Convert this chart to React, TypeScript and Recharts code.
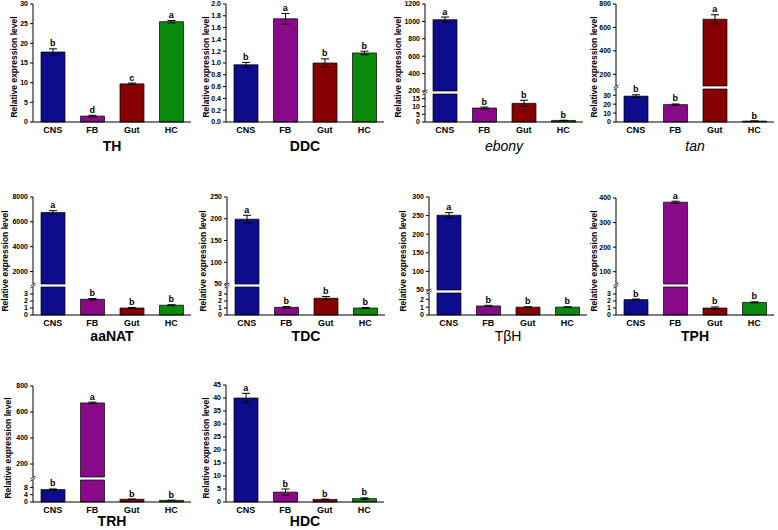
import React from "react";
import { ComposedChart, Bar, XAxis, YAxis, ErrorBar, Cell, Scatter } from "recharts";

const categories = ["CNS", "FB", "Gut", "HC"];
const barColors = ["#0c0c8c", "#880a88", "#860000", "#0a8a0a"];

const thValues = [17.8, 1.5, 9.7, 25.5];
const thErrors = [0.8, 0.2, 0.2, 0.3];
const thLetters = ["b", "d", "c", "a"];

const ddcValues = [0.97, 1.75, 1.0, 1.17];
const ddcErrors = [0.04, 0.09, 0.07, 0.03];
const ddcLetters = ["b", "a", "b", "b"];

const ebonyValues = [1020, 9, 12, 1.0];
const ebonyErrors = [30, 0.6, 2, 0.1];
const ebonyLetters = ["a", "b", "b", "b"];

const tanValues = [29, 19.5, 670, 1.0];
const tanErrors = [1.5, 0.7, 38, 0.1];
const tanLetters = ["b", "b", "a", "b"];

const aanatValues = [6750, 2.25, 1.0, 1.4];
const aanatErrors = [150, 0.1, 0.05, 0.07];
const aanatLetters = ["a", "b", "b", "b"];

const tdcValues = [199, 1.1, 2.4, 1.0];
const tdcErrors = [9, 0.1, 0.25, 0.07];
const tdcLetters = ["a", "b", "b", "b"];

const tbhValues = [251, 1.15, 1.0, 1.0];
const tbhErrors = [7, 0.08, 0.05, 0.05];
const tbhLetters = ["a", "b", "b", "b"];

const tphValues = [2.2, 383, 1.0, 1.8];
const tphErrors = [0.08, 4, 0.15, 0.07];
const tphLetters = ["b", "a", "b", "b"];

const trhValues = [6.8, 670, 1.5, 0.9];
const trhErrors = [0.3, 6, 0.1, 0.1];
const trhLetters = ["b", "a", "b", "b"];

const hdcValues = [40, 3.8, 1.0, 1.3];
const hdcErrors = [1.8, 1.2, 0.1, 0.3];
const hdcLetters = ["a", "b", "b", "b"];

const thTicks = [0, 5, 10, 15, 20, 25, 30];
const ddcTicks = [0, 0.2, 0.4, 0.6, 0.8, 1.0, 1.2, 1.4, 1.6, 1.8, 2.0];
const ebonyUpperTicks = [200, 400, 600, 800, 1000, 1200];
const ebonyLowerTicks = [0, 5, 10, 15];
const tanUpperTicks = [200, 400, 600, 800];
const tanLowerTicks = [0, 10, 20, 30];
const aanatUpperTicks = [2000, 4000, 6000, 8000];
const smallLowerTicks = [0, 1, 2, 3];
const tdcUpperTicks = [50, 100, 150, 200, 250];
const tbhUpperTicks = [50, 100, 150, 200, 250, 300];
const tbhLowerTicks = [0, 1, 2];
const tphUpperTicks = [100, 200, 300, 400];
const trhUpperTicks = [200, 400, 600, 800];
const trhLowerTicks = [0, 4, 8];
const hdcTicks = [0, 5, 10, 15, 20, 25, 30, 35, 40, 45];

type Sec = { domain: [number, number]; ticks: number[]; yTop: number; yBottom: number; decimals?: number };
type Panel = {
  title: string;
  italic?: boolean;
  bold: boolean;
  values: number[];
  errors: number[];
  letters: string[];
  axisX: number;
  labelX: number;
  labelY: number;
  titleY: number;
  sections: Sec[];
};

const FONT = "Arial, 'Liberation Sans', sans-serif";
const PW = 158;
const YW = 40;
const MT = 6;
const MR = 6;
const MB = 6;
const XH = 20;

const panels: Panel[] = [
  {
    title: "TH", bold: true, values: thValues, errors: thErrors, letters: thLetters,
    axisX: 33, labelX: 14, labelY: 67, titleY: 146,
    sections: [{ domain: [0, 30], ticks: thTicks, yTop: 4, yBottom: 122 }],
  },
  {
    title: "DDC", bold: true, values: ddcValues, errors: ddcErrors, letters: ddcLetters,
    axisX: 226, labelX: 206, labelY: 67, titleY: 146,
    sections: [{ domain: [0, 2], ticks: ddcTicks, yTop: 4, yBottom: 122, decimals: 1 }],
  },
  {
    title: "ebony", italic: true, bold: false, values: ebonyValues, errors: ebonyErrors, letters: ebonyLetters,
    axisX: 425, labelX: 398, labelY: 67, titleY: 146,
    sections: [
      { domain: [200, 1200], ticks: ebonyUpperTicks, yTop: 4, yBottom: 91 },
      { domain: [0, 18], ticks: ebonyLowerTicks, yTop: 94, yBottom: 122 },
    ],
  },
  {
    title: "tan", italic: true, bold: false, values: tanValues, errors: tanErrors, letters: tanLetters,
    axisX: 616, labelX: 594, labelY: 67, titleY: 146,
    sections: [
      { domain: [100, 800], ticks: tanUpperTicks, yTop: 4, yBottom: 86 },
      { domain: [0, 37], ticks: tanLowerTicks, yTop: 89, yBottom: 122 },
    ],
  },
  {
    title: "aaNAT", bold: true, values: aanatValues, errors: aanatErrors, letters: aanatLetters,
    axisX: 33, labelX: 5, labelY: 261, titleY: 336,
    sections: [
      { domain: [1000, 8000], ticks: aanatUpperTicks, yTop: 197, yBottom: 284 },
      { domain: [0, 4], ticks: smallLowerTicks, yTop: 287, yBottom: 315 },
    ],
  },
  {
    title: "TDC", bold: true, values: tdcValues, errors: tdcErrors, letters: tdcLetters,
    axisX: 227, labelX: 203, labelY: 261, titleY: 336,
    sections: [
      { domain: [50, 250], ticks: tdcUpperTicks, yTop: 197, yBottom: 284 },
      { domain: [0, 4], ticks: smallLowerTicks, yTop: 287, yBottom: 315 },
    ],
  },
  {
    title: "TβH", bold: false, values: tbhValues, errors: tbhErrors, letters: tbhLetters,
    axisX: 429, labelX: 403, labelY: 261, titleY: 336,
    sections: [
      { domain: [50, 300], ticks: tbhUpperTicks, yTop: 197, yBottom: 290 },
      { domain: [0, 2.8], ticks: tbhLowerTicks, yTop: 293, yBottom: 315 },
    ],
  },
  {
    title: "TPH", bold: true, values: tphValues, errors: tphErrors, letters: tphLetters,
    axisX: 616, labelX: 594, labelY: 261, titleY: 336,
    sections: [
      { domain: [50, 400], ticks: tphUpperTicks, yTop: 198, yBottom: 284 },
      { domain: [0, 4], ticks: smallLowerTicks, yTop: 287, yBottom: 315 },
    ],
  },
  {
    title: "TRH", bold: true, values: trhValues, errors: trhErrors, letters: trhLetters,
    axisX: 33, labelX: 8, labelY: 448, titleY: 521,
    sections: [
      { domain: [100, 800], ticks: trhUpperTicks, yTop: 386, yBottom: 477 },
      { domain: [0, 12], ticks: trhLowerTicks, yTop: 480, yBottom: 502 },
    ],
  },
  {
    title: "HDC", bold: true, values: hdcValues, errors: hdcErrors, letters: hdcLetters,
    axisX: 226, labelX: 206, labelY: 448, titleY: 521,
    sections: [{ domain: [0, 45], ticks: hdcTicks, yTop: 385, yBottom: 502 }],
  },
];

function sectionData(p: Panel, s: Sec, isTop: boolean, isBottom: boolean) {
  const [lo, hi] = s.domain;
  return categories.map((name, i) => {
    const v = p.values[i];
    const e = p.errors[i];
    const letter = p.letters[i];
    if (isTop && isBottom) return { name, v, e, t: v + e, letter };
    if (isBottom) {
      const fits = v <= hi;
      return { name, v: Math.min(v, hi), e: fits ? e : 0, t: fits ? v + e : null, letter };
    }
    const fits = v > lo;
    return { name, v: fits ? v : null, e: fits ? e : 0, t: fits ? v + e : null, letter };
  });
}

const LetterShape = (props: any) => {
  const { cx, cy, payload } = props;
  if (!payload || payload.t == null || cx == null || cy == null || isNaN(cy)) return <g />;
  return (
    <text x={cx} y={cy - 2.5} textAnchor="middle" fontSize={9} fontWeight={700} fill="#000" fontFamily={FONT}>
      {payload.letter}
    </text>
  );
};

function Section({ p, s, isTop, isBottom }: { p: Panel; s: Sec; isTop: boolean; isBottom: boolean }) {
  const h = s.yBottom - s.yTop;
  const width = YW + PW + MR;
  const mb = isBottom ? 0 : MB;
  const height = MT + h + (isBottom ? XH : 0) + mb;
  const data = sectionData(p, s, isTop, isBottom);
  const fmt = (v: number) => (s.decimals ? v.toFixed(s.decimals) : String(v));
  return (
    <div style={{ position: "absolute", left: p.axisX - YW, top: s.yTop - MT, width, height }}>
      <ComposedChart width={width} height={height} data={data} margin={{ top: MT, right: MR, bottom: mb, left: 0 }}>
        <XAxis
          dataKey="name"
          type="category"
          hide={!isBottom}
          height={XH}
          tickLine={false}
          tickSize={2}
          tickMargin={3}
          interval={0}
          axisLine={{ stroke: "#000", strokeWidth: 1 }}
          tick={{ fontSize: 9, fontWeight: 700, fill: "#000", fontFamily: FONT }}
        />
        <YAxis
          type="number"
          width={YW}
          domain={s.domain}
          ticks={s.ticks}
          interval={0}
          tickSize={3}
          tickMargin={2}
          tickFormatter={fmt}
          axisLine={{ stroke: "#000", strokeWidth: 1 }}
          tickLine={{ stroke: "#000", strokeWidth: 1 }}
          tick={{ fontSize: 7, fontWeight: 700, fill: "#000", fontFamily: FONT }}
        />
        <Bar dataKey="v" barSize={24} isAnimationActive={false} stroke="#000" strokeWidth={0.7}>
          {data.map((d, i) => (
            <Cell key={d.name} fill={barColors[i]} />
          ))}
          <ErrorBar dataKey="e" width={4} stroke="#000" strokeWidth={1} direction="y" />
        </Bar>
        <Scatter dataKey="t" isAnimationActive={false} shape={LetterShape} />
      </ComposedChart>
    </div>
  );
}

export default function App() {
  return (
    <div style={{ position: "absolute", left: 0, top: 0, width: 778, height: 530, background: "#fff", fontFamily: FONT }}>
      {panels.map((p) =>
        p.sections.map((s, si) => (
          <Section
            key={p.title + si}
            p={p}
            s={s}
            isTop={si === 0}
            isBottom={si === p.sections.length - 1}
          />
        ))
      )}
      <svg width={778} height={530} style={{ position: "absolute", left: 0, top: 0, pointerEvents: "none" }}>
        {panels.map((p) => (
          <g key={p.title}>
            <text
              x={p.labelX}
              y={p.labelY}
              transform={`rotate(-90 ${p.labelX} ${p.labelY})`}
              textAnchor="middle"
              dominantBaseline="central"
              fontSize={8.5}
              fontWeight={700}
              fontFamily={FONT}
              fill="#000"
            >
              Relative expression level
            </text>
            <text
              x={p.axisX + PW / 2}
              y={p.titleY}
              textAnchor="middle"
              dominantBaseline="central"
              fontSize={14}
              fontWeight={p.bold ? 700 : 400}
              fontStyle={p.italic ? "italic" : "normal"}
              fontFamily={FONT}
              fill="#000"
            >
              {p.title}
            </text>
            {p.sections.length > 1 && (
              <g stroke="#000" strokeWidth={0.8}>
                <line
                  x1={p.axisX - 2.5}
                  y1={(p.sections[0].yBottom + p.sections[1].yTop) / 2 + 0.5}
                  x2={p.axisX + 2.5}
                  y2={(p.sections[0].yBottom + p.sections[1].yTop) / 2 - 2.5}
                />
                <line
                  x1={p.axisX - 2.5}
                  y1={(p.sections[0].yBottom + p.sections[1].yTop) / 2 + 2.5}
                  x2={p.axisX + 2.5}
                  y2={(p.sections[0].yBottom + p.sections[1].yTop) / 2 - 0.5}
                />
              </g>
            )}
          </g>
        ))}
      </svg>
    </div>
  );
}
